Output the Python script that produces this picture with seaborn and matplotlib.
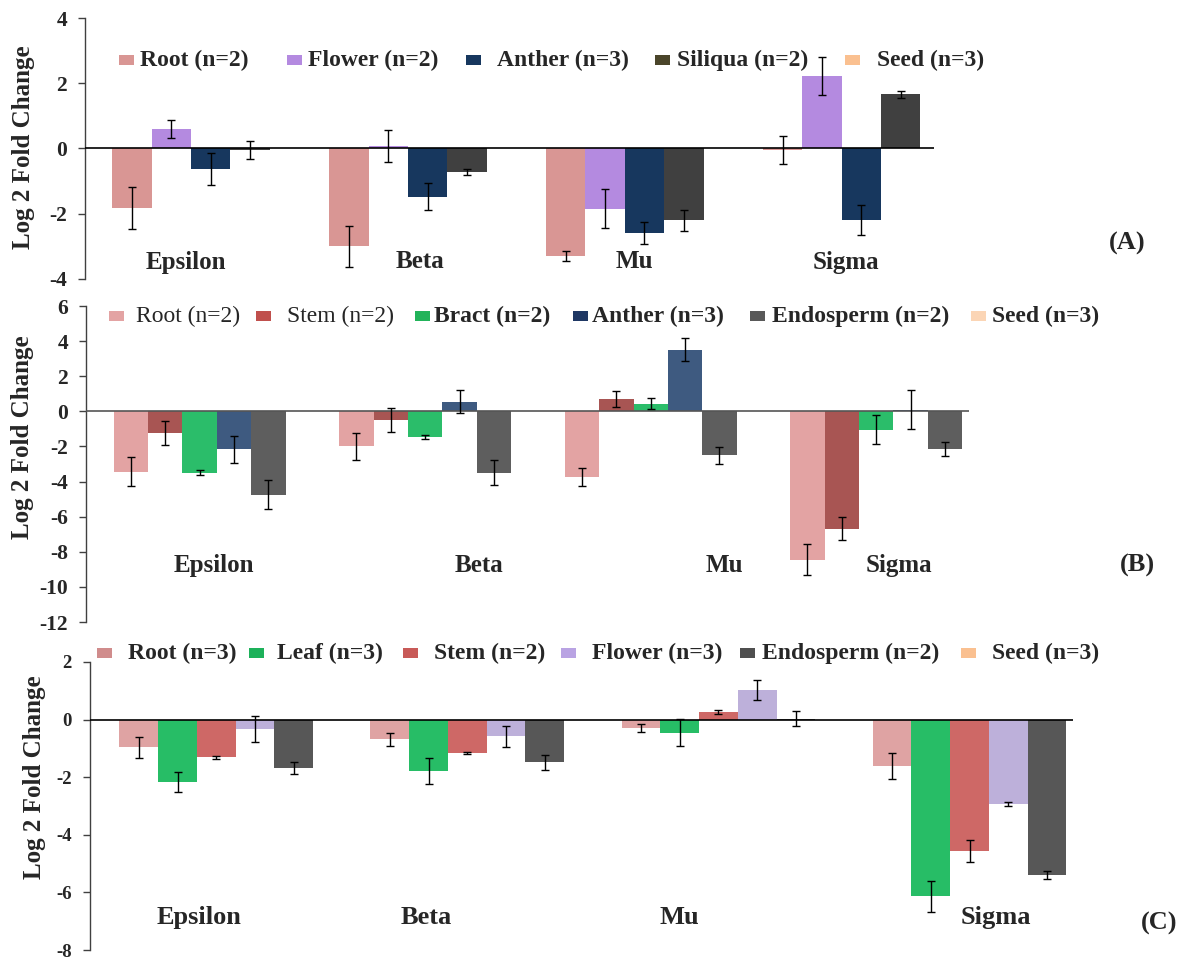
import numpy as np
import pandas as pd
import matplotlib
matplotlib.use("Agg")
import matplotlib.pyplot as plt
from matplotlib.patches import Rectangle
import seaborn as sns

# ---------------- data ----------------
genes = ["Epsilon", "Beta", "Mu", "Sigma"]
nan = np.nan

# (A)
a_tissues = ["Root (n=2)", "Flower (n=2)", "Anther (n=3)", "Siliqua (n=2)", "Seed (n=3)"]
a_root = [-1.82, -3.00, -3.30, -0.04]
a_flower = [0.60, 0.09, -1.85, 2.22]
a_anther = [-0.62, -1.48, -2.58, -2.19]
a_siliqua = [-0.04, -0.72, -2.20, 1.66]
a_seed = [0.0, 0.0, 0.0, 0.0]
a_root_err = [0.64, 0.63, 0.15, 0.43]
a_flower_err = [0.27, 0.49, 0.60, 0.59]
a_anther_err = [0.49, 0.41, 0.34, 0.45]
a_siliqua_err = [0.28, 0.10, 0.32, 0.10]
a_seed_err = [nan, nan, nan, nan]

# (B)
b_tissues = ["Root (n=2)", "Stem (n=2)", "Bract (n=2)", "Anther (n=3)", "Endosperm (n=2)", "Seed (n=3)"]
b_root = [-3.43, -2.00, -3.75, -8.45]
b_stem = [-1.22, -0.50, 0.70, -6.68]
b_bract = [-3.50, -1.45, 0.44, -1.05]
b_anther = [-2.17, 0.55, 3.52, 0.10]
b_endosperm = [-4.76, -3.50, -2.51, -2.15]
b_seed = [0.0, 0.0, 0.0, 0.0]
b_root_err = [0.83, 0.75, 0.50, 0.90]
b_stem_err = [0.67, 0.67, 0.48, 0.67]
b_bract_err = [0.15, 0.12, 0.33, 0.83]
b_anther_err = [0.75, 0.67, 0.67, 1.12]
b_endosperm_err = [0.83, 0.70, 0.50, 0.38]
b_seed_err = [nan, nan, nan, nan]

# (C)
c_tissues = ["Root (n=3)", "Leaf (n=3)", "Stem (n=2)", "Flower (n=3)", "Endosperm (n=2)", "Seed (n=3)"]
c_root = [-0.96, -0.68, -0.29, -1.61]
c_leaf = [-2.17, -1.79, -0.45, -6.14]
c_stem = [-1.31, -1.16, 0.27, -4.57]
c_flower = [-0.33, -0.58, 1.03, -2.94]
c_endosperm = [-1.68, -1.48, 0.03, -5.39]
c_seed = [0.0, 0.0, 0.0, 0.0]
c_root_err = [0.37, 0.23, 0.14, 0.45]
c_leaf_err = [0.36, 0.44, 0.48, 0.54]
c_stem_err = [0.06, 0.03, 0.07, 0.38]
c_flower_err = [0.44, 0.36, 0.34, 0.07]
c_endosperm_err = [0.20, 0.26, 0.26, 0.14]
c_seed_err = [nan, nan, nan, nan]

# ---------------- styling ----------------
sns.set_theme(style="white")
plt.rcParams["font.family"] = ["Liberation Serif", "DejaVu Serif"]
plt.rcParams["font.weight"] = "bold"

W, H = 1193, 963
fig = plt.figure(figsize=(W / 100, H / 100), dpi=100)


def fx(x):
    return x / W


def fy(y):
    return 1 - y / H


def panel(rect_px, tissues, series, errs, bar_colors, ylim, yticks, width,
          zero_color="black", ticksize=15.5):
    left, right, top, bottom = rect_px
    ax = fig.add_axes([fx(left), fy(bottom), (right - left) / W, (bottom - top) / H])
    rows = []
    for t, vals in zip(tissues, series):
        for g, v in zip(genes, vals):
            rows.append({"gene": g, "tissue": t, "value": v})
    df = pd.DataFrame(rows)
    sns.barplot(data=df, x="gene", y="value", hue="tissue", order=genes,
                hue_order=tissues, palette=dict(zip(tissues, bar_colors)),
                errorbar=None, width=width, saturation=1, linewidth=0,
                legend=False, ax=ax)
    for cont, err in zip(ax.containers, errs):
        for bar, e in zip(cont, err):
            if np.isnan(e):
                continue
            xc = bar.get_x() + bar.get_width() / 2
            yv = bar.get_y() + bar.get_height()
            ax.errorbar(xc, yv, yerr=e, fmt="none", ecolor="black",
                        elinewidth=1.0, capsize=3.2, capthick=1.0, zorder=5)
    ax.axhline(0, color=zero_color, lw=1.2, zorder=4)
    ax.set_xlim(-0.58, 3.335)
    ax.set_ylim(*ylim)
    ax.set_yticks(yticks)
    ax.set_yticklabels([str(t) for t in yticks])
    ax.set_xticks([])
    ax.set_xlabel("")
    ax.set_ylabel("")
    for s in ["top", "right", "bottom"]:
        ax.spines[s].set_visible(False)
    ax.spines["left"].set_color("#404040")
    ax.spines["left"].set_linewidth(1.0)
    ax.tick_params(axis="y", which="both", left=True, direction="out",
                   length=5, width=1.0, color="#404040", pad=8,
                   labelsize=ticksize)
    ax.patch.set_alpha(0)
    return ax


def legend(items, colors, patch_x, text_x, y, weights=None, size=17):
    for i, (lab, col, px, tx) in enumerate(zip(items, colors, patch_x, text_x)):
        fig.add_artist(Rectangle((fx(px), fy(y + 5)), 15 / W, 10 / H,
                                 transform=fig.transFigure, color=col, lw=0))
        w = "bold" if weights is None else weights[i]
        fig.text(fx(tx), fy(y), lab, ha="left", va="center", fontsize=size,
                 fontweight=w)


def labels(names, xs, y, size=18):
    for n, x in zip(names, xs):
        fig.text(fx(x), fy(y), n, ha="center", va="center", fontsize=size,
                 fontweight="bold")


def ylabel(x, y):
    fig.text(fx(x), fy(y), "Log 2 Fold Change", rotation=90, ha="center",
             va="center", fontsize=18, fontweight="bold")


# ---- panel A ----
a_colors = ["#D99694", "#B48AE0", "#17375E", "#404040", "#FAC090"]
axA = panel((85, 934, 18, 279), a_tissues,
            [a_root, a_flower, a_anther, a_siliqua, a_seed],
            [a_root_err, a_flower_err, a_anther_err, a_siliqua_err, a_seed_err],
            a_colors, (-4, 4), [4, 2, 0, -2, -4], 0.908)
legend(a_tissues, ["#D99694", "#B48AE0", "#17375E", "#4A452A", "#FAC090"],
       [119, 287, 466, 655, 845], [140, 308, 497, 677, 877], 60)
labels(genes, [186, 420, 634, 846], 262)
fig.text(fx(1127), fy(243), "(A)", ha="center", va="center", fontsize=19,
         fontweight="bold")
ylabel(24, 147)

# ---- panel B ----
b_colors = ["#E3A3A3", "#A85553", "#2BBD6A", "#3E5A80", "#5E5E5E", "#FBD5B5"]
axB = panel((86, 969, 306, 622), b_tissues,
            [b_root, b_stem, b_bract, b_anther, b_endosperm, b_seed],
            [b_root_err, b_stem_err, b_bract_err, b_anther_err, b_endosperm_err, b_seed_err],
            b_colors, (-12, 6), [6, 4, 2, 0, -2, -4, -6, -8, -10, -12], 0.915,
            zero_color="#555555")
legend(b_tissues, ["#E3A3A3", "#C0504D", "#22B35A", "#1F3864", "#595959", "#FBD5B5"],
       [109, 256, 415, 573, 750, 971], [136, 287, 434, 592, 772, 992], 316,
       weights=["normal", "normal", "bold", "bold", "bold", "bold"])
labels(genes, [214, 479, 724, 899], 565)
fig.text(fx(1137), fy(565), "(B)", ha="center", va="center", fontsize=19,
         fontweight="bold")
ylabel(23, 437)

# ---- panel C ----
c_colors = ["#DFA3A3", "#27BD66", "#CE6866", "#BDB0DA", "#575757", "#FAC090"]
axC = panel((90, 1073, 662, 950), c_tissues,
            [c_root, c_leaf, c_stem, c_flower, c_endosperm, c_seed],
            [c_root_err, c_leaf_err, c_stem_err, c_flower_err, c_endosperm_err, c_seed_err],
            c_colors, (-8, 2), [2, 0, -2, -4, -6, -8], 0.926, ticksize=13.5)
legend(c_tissues, ["#D08C8C", "#1DB15A", "#C85A58", "#B9A3E3", "#4F4F4F", "#FAC090"],
       [97, 249, 403, 561, 740, 961], [128, 277, 434, 592, 762, 992], 653)
labels(genes, [199, 426, 679, 996], 917, size=19)
fig.text(fx(1159), fy(923), "(C)", ha="center", va="center", fontsize=19,
         fontweight="bold")
ylabel(35, 777)

fig.savefig("out.png", dpi=100)
